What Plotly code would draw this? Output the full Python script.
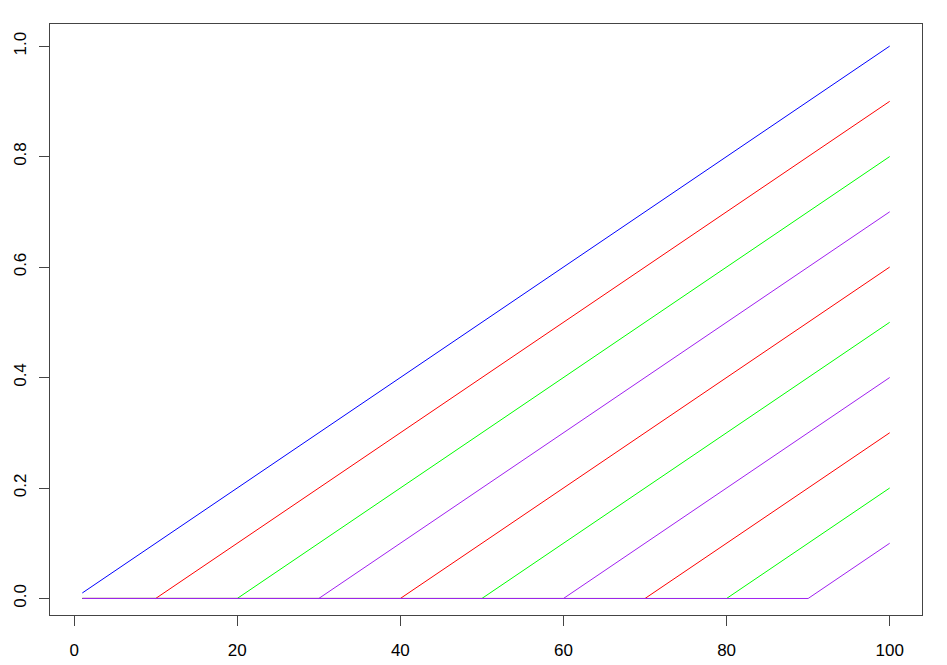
import plotly.graph_objects as go

# breakpoints of each line
series_x = [
    [1, 100],
    [1, 10, 100],
    [1, 20, 100],
    [1, 30, 100],
    [1, 40, 100],
    [1, 50, 100],
    [1, 60, 100],
    [1, 70, 100],
    [1, 80, 100],
    [1, 90, 100],
]
series_y = [
    [0.01, 1.0],
    [0, 0, 0.9],
    [0, 0, 0.8],
    [0, 0, 0.7],
    [0, 0, 0.6],
    [0, 0, 0.5],
    [0, 0, 0.4],
    [0, 0, 0.3],
    [0, 0, 0.2],
    [0, 0, 0.1],
]
colors = ["#0000FF", "#FF0000", "#00FF00", "#A020F0",
          "#FF0000", "#00FF00", "#A020F0",
          "#FF0000", "#00FF00", "#A020F0"]

x_ticks = [0, 20, 40, 60, 80, 100]
y_ticks = [0.0, 0.2, 0.4, 0.6, 0.8, 1.0]

fig = go.Figure()
for xs, ys, c in zip(series_x, series_y, colors):
    fig.add_trace(go.Scatter(x=xs, y=ys, mode="lines",
                             line=dict(color=c, width=1), showlegend=False))

axis_common = dict(showgrid=False, zeroline=False, showline=True, mirror=True,
                   linecolor="#444", linewidth=1, ticks="outside", ticklen=10,
                   tickcolor="#444", automargin=False,
                   tickfont=dict(family="Liberation Sans", size=17, color="black"))

# page body adds 8px, so the figure is a bit smaller than the window
fig.update_layout(
    width=939, height=657,
    plot_bgcolor="white", paper_bgcolor="white",
    margin=dict(l=42, r=25, t=16, b=50),
    xaxis=dict(range=[-2.96, 103.96], tickvals=x_ticks, ticktext=[str(v) for v in x_ticks],
               ticklabelstandoff=10, **axis_common),
    yaxis=dict(range=[-0.0299, 1.04], tickvals=y_ticks, ticktext=["%.1f" % v for v in y_ticks],
               tickangle=-90, ticklabelstandoff=6, **axis_common),
)

fig.write_html("out.html")
